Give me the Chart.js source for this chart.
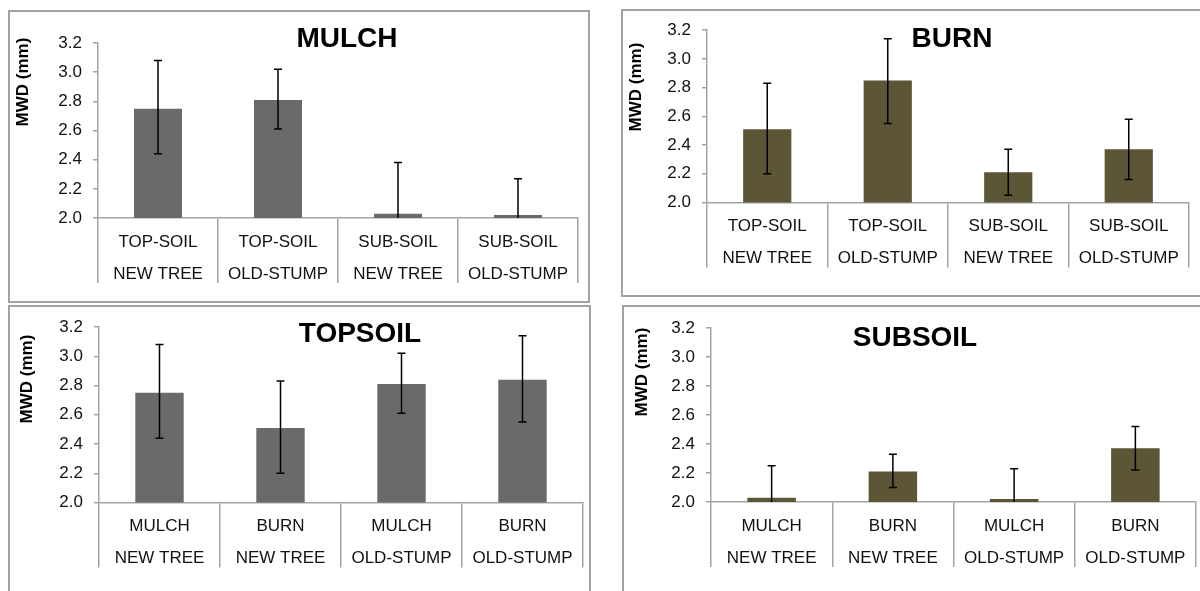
<!DOCTYPE html>
<html>
<head>
<meta charset="utf-8">
<script src="https://cdn.jsdelivr.net/npm/chart.js@4.4.0/dist/chart.umd.min.js"></script>
<style>
  body { margin: 0; background: #fff; width: 1200px; height: 591px; overflow: hidden; position: relative; }
  canvas { position: absolute; }
</style>
</head>
<body>
<canvas id="mulch"></canvas>
<canvas id="burn"></canvas>
<canvas id="topsoil"></canvas>
<canvas id="subsoil"></canvas>
<script>
// category labels (two rows each)
const soilLabels = [["TOP-SOIL", "NEW TREE"], ["TOP-SOIL", "OLD-STUMP"], ["SUB-SOIL", "NEW TREE"], ["SUB-SOIL", "OLD-STUMP"]];
const treatLabels = [["MULCH", "NEW TREE"], ["BURN", "NEW TREE"], ["MULCH", "OLD-STUMP"], ["BURN", "OLD-STUMP"]];
const yMin = 2.0, yMax = 3.2, yStep = 0.2;

// MWD means and error bar ends (mm)
const mulchMean = [2.75, 2.81, 2.03, 2.02];
const mulchLow  = [2.44, 2.61, 1.68, 1.77];
const mulchHigh = [3.08, 3.02, 2.38, 2.27];

const burnMean = [2.51, 2.85, 2.21, 2.37];
const burnLow  = [2.20, 2.55, 2.05, 2.16];
const burnHigh = [2.83, 3.14, 2.37, 2.58];

const topMean = [2.75, 2.51, 2.81, 2.84];
const topLow  = [2.44, 2.20, 2.61, 2.55];
const topHigh = [3.08, 2.83, 3.02, 3.14];

const subMean = [2.03, 2.21, 2.02, 2.37];
const subLow  = [1.81, 2.10, 1.81, 2.22];
const subHigh = [2.25, 2.33, 2.23, 2.52];

const GREY = "#6a6a6a";
const OLIVE = "#5c5536";
const LINE = "#a3a3a3";

Chart.defaults.font.family = "'Liberation Sans', Arial, sans-serif";
Chart.defaults.color = "#111";

// draws the frame, title, y title and error bars
const decor = {
  id: "decor",
  beforeDraw(chart, args, o) {
    const ctx = chart.ctx;
    ctx.save();
    ctx.strokeStyle = LINE;
    ctx.lineWidth = 2;
    ctx.strokeRect(1, 1, chart.width - 2, chart.height - 2);
    ctx.restore();
  },
  afterDatasetsDraw(chart, args, o) {
    const ctx = chart.ctx;
    const xs = chart.scales.x, ys = chart.scales.y;
    ctx.save();
    ctx.strokeStyle = "#000";
    ctx.lineWidth = 1.5;
    o.low.forEach((lo, i) => {
      const x = xs.getPixelForValue(i);
      const yh = ys.getPixelForValue(o.high[i]);
      const yl = ys.getPixelForValue(Math.max(lo, yMin));
      ctx.beginPath();
      ctx.moveTo(x, yl); ctx.lineTo(x, yh);
      ctx.moveTo(x - 4, yh); ctx.lineTo(x + 4, yh);
      if (lo > yMin) { ctx.moveTo(x - 4, yl); ctx.lineTo(x + 4, yl); }
      ctx.stroke();
    });
    ctx.restore();
  },
  afterDraw(chart, args, o) {
    const ctx = chart.ctx;
    ctx.save();
    ctx.fillStyle = "#000";
    ctx.textAlign = "center";
    ctx.textBaseline = "middle";
    ctx.font = "bold 28px 'Liberation Sans', Arial, sans-serif";
    ctx.fillText(o.title, o.titleX, o.titleY);
    ctx.translate(o.yTitleX, o.yTitleY);
    ctx.rotate(-Math.PI / 2);
    ctx.font = "bold 17px 'Liberation Sans', Arial, sans-serif";
    ctx.fillText("MWD (mm)", 0, 0);
    ctx.restore();
  }
};

const XH = 70;

function makePanel(id, p, labels, mean, low, high, color, title) {
  const cv = document.getElementById(id);
  cv.width = p.w; cv.height = p.h;
  cv.style.left = p.left + "px"; cv.style.top = p.top + "px";
  new Chart(cv, {
    type: "bar",
    data: {
      labels: labels,
      datasets: [{ data: mean, backgroundColor: color, barPercentage: 0.4, categoryPercentage: 1.0 }]
    },
    options: {
      responsive: false,
      animation: false,
      layout: {
        padding: {
          left: 0,
          top: p.caT - p.top,
          right: p.left + p.w - p.caR,
          bottom: p.h - (p.caB - p.top) - XH
        }
      },
      plugins: {
        legend: { display: false },
        tooltip: { enabled: false },
        decor: {
          title: title,
          titleX: p.titleX - p.left, titleY: p.titleY - p.top,
          yTitleX: p.yTitleX - p.left, yTitleY: p.yTitleY - p.top,
          low: low, high: high
        }
      },
      scales: {
        x: {
          afterFit: s => { s.height = XH; },
          grid: { offset: true, drawOnChartArea: false, tickLength: 65, color: LINE, lineWidth: 1.5 },
          border: { color: LINE, width: 1.5 },
          ticks: { font: { size: 17, lineHeight: 32 / 17 }, padding: -57, maxRotation: 0, autoSkip: false, color: "#111" }
        },
        y: {
          min: yMin, max: yMax,
          afterFit: s => { s.width = p.caL - p.left; },
          grid: { drawOnChartArea: false, tickLength: 5, color: LINE, lineWidth: 1.5 },
          border: { color: LINE, width: 1.5 },
          ticks: { stepSize: yStep, font: { size: 17 }, padding: 11, color: "#111", callback: v => v.toFixed(1) }
        }
      }
    },
    plugins: [decor]
  });
}

makePanel("mulch",
  { left: 8, top: 10, w: 582, h: 293, caL: 98, caR: 578, caT: 43, caB: 218, titleX: 347, titleY: 39, yTitleX: 23, yTitleY: 82 },
  soilLabels, mulchMean, mulchLow, mulchHigh, GREY, "MULCH");
makePanel("burn",
  { left: 621, top: 9, w: 600, h: 288, caL: 707, caR: 1189, caT: 28.5, caB: 202.5, titleX: 952, titleY: 39, yTitleX: 636, yTitleY: 87 },
  soilLabels, burnMean, burnLow, burnHigh, OLIVE, "BURN");
makePanel("topsoil",
  { left: 8, top: 305, w: 583, h: 300, caL: 99, caR: 583, caT: 327, caB: 502.5, titleX: 360, titleY: 334, yTitleX: 27, yTitleY: 379 },
  treatLabels, topMean, topLow, topHigh, GREY, "TOPSOIL");
makePanel("subsoil",
  { left: 622, top: 305, w: 600, h: 300, caL: 711, caR: 1196, caT: 328, caB: 502, titleX: 915, titleY: 338, yTitleX: 642, yTitleY: 372 },
  treatLabels, subMean, subLow, subHigh, OLIVE, "SUBSOIL");
</script>
</body>
</html>
